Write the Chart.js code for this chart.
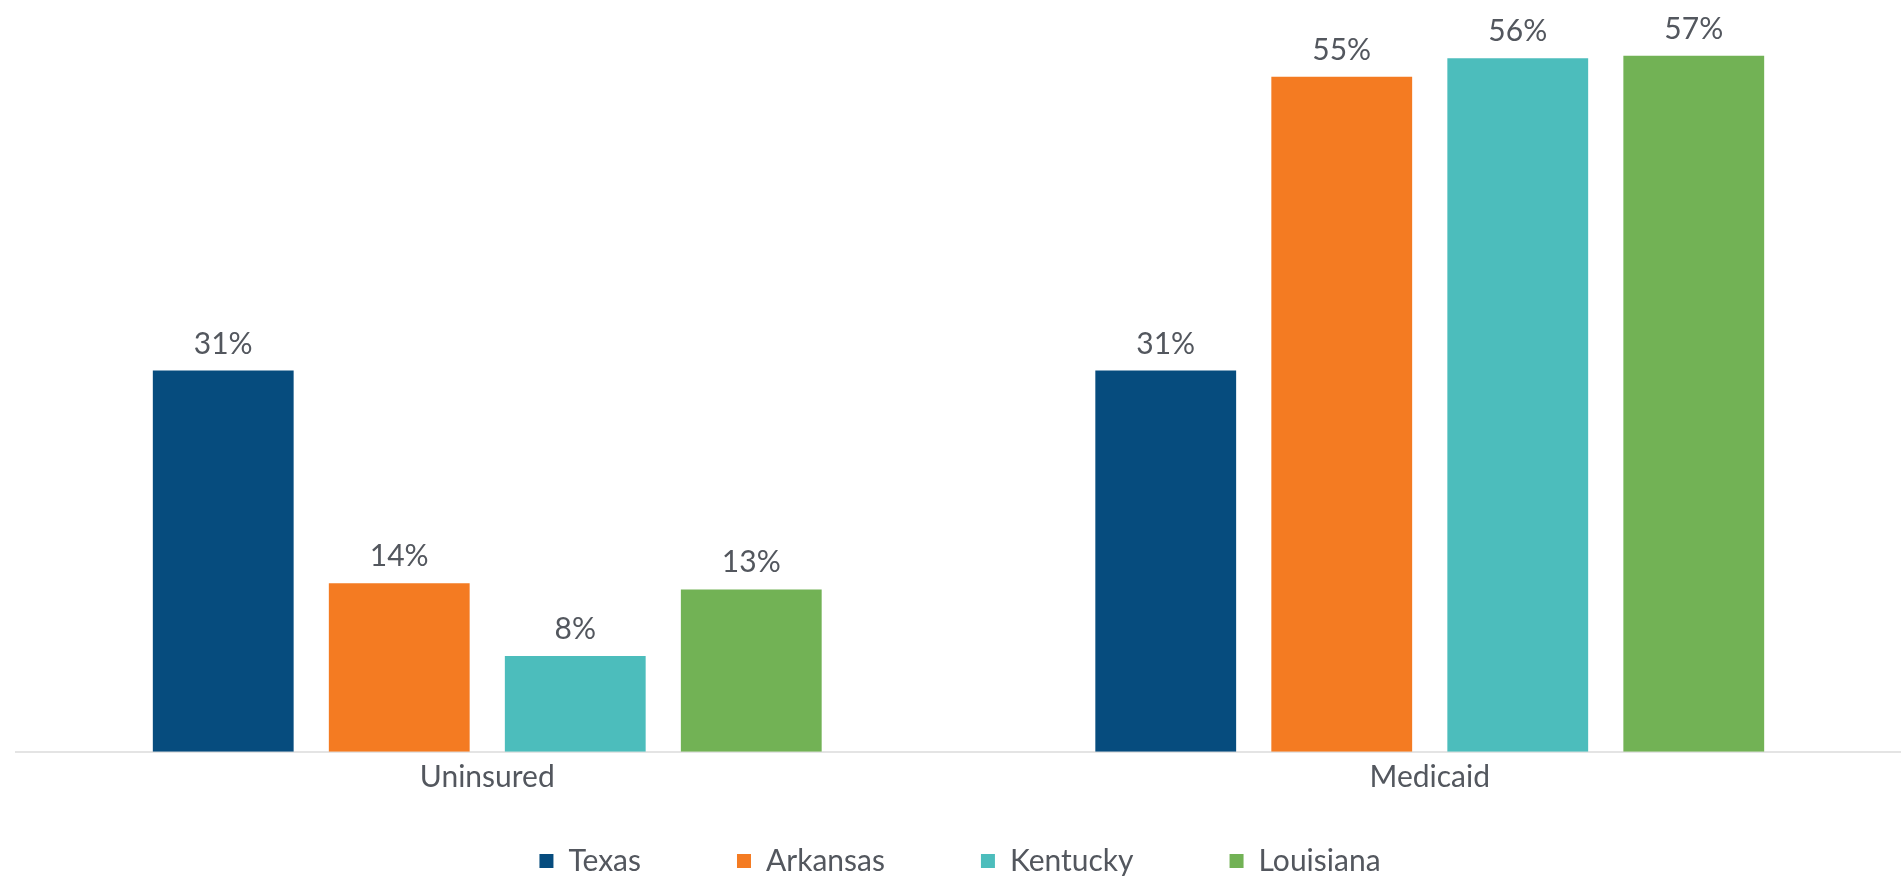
<!DOCTYPE html>
<html>
<head>
<meta charset="utf-8">
<script src="https://cdn.jsdelivr.net/npm/chart.js@4/dist/chart.umd.min.js"></script>
<style>
  html, body { margin: 0; padding: 0; background: #ffffff; }
  #wrap { position: relative; width: 1901px; height: 879px; }
</style>
</head>
<body>
<div id="wrap"><canvas id="c"></canvas></div>
<script>
const categories = ['Uninsured', 'Medicaid'];
const seriesNames = ['Texas', 'Arkansas', 'Kentucky', 'Louisiana'];
const texas = [31.0, 31.0];
const arkansas = [13.7, 54.9];
const kentucky = [7.8, 56.4];
const louisiana = [13.2, 56.6];
const seriesColors = ['#064C7E', '#F47B22', '#4CBDBC', '#72B255'];

const textColor = '#53575e';
const fontFamily = 'Lato, "Open Sans", sans-serif';

const valueLabels = {
  id: 'valueLabels',
  afterDatasetsDraw(chart) {
    const ctx = chart.ctx;
    ctx.save();
    ctx.font = '30px ' + fontFamily;
    ctx.fillStyle = textColor;
    ctx.textAlign = 'center';
    ctx.textBaseline = 'alphabetic';
    chart.data.datasets.forEach((ds, i) => {
      const meta = chart.getDatasetMeta(i);
      meta.data.forEach((bar, j) => {
        const v = ds.data[j];
        ctx.fillText(Math.round(v) + '%', bar.x, bar.y - 17);
      });
    });
    ctx.restore();
  }
};

const seriesData = [texas, arkansas, kentucky, louisiana];

new Chart(document.getElementById('c'), {
  type: 'bar',
  data: {
    labels: categories,
    datasets: seriesNames.map((name, i) => ({
      label: name,
      data: seriesData[i],
      backgroundColor: seriesColors[i],
      borderWidth: 0,
      categoryPercentage: 0.747,
      barPercentage: 0.8
    }))
  },
  options: {
    responsive: true,
    maintainAspectRatio: false,
    animation: false,
    layout: { padding: { top: 14, left: 16, right: -3, bottom: -7 } },
    scales: {
      x: {
        grid: { display: false, drawTicks: false },
        border: { display: true, color: '#e4e4e4', width: 2 },
        ticks: { color: textColor, font: { family: fontFamily, size: 30 }, padding: 8 },
        afterFit(axis) { axis.height = 45; }
      },
      y: {
        display: false,
        min: 0,
        max: 60
      }
    },
    plugins: {
      legend: {
        position: 'bottom',
        title: { display: true, text: '', font: { size: 1 }, padding: { top: -48, bottom: 0 } },
        labels: {
          color: textColor,
          font: { family: fontFamily, size: 30 },
          boxWidth: 14,
          boxHeight: 14,
          padding: 96
        }
      },
      tooltip: { enabled: false }
    }
  },
  plugins: [valueLabels]
});
</script>
</body>
</html>
